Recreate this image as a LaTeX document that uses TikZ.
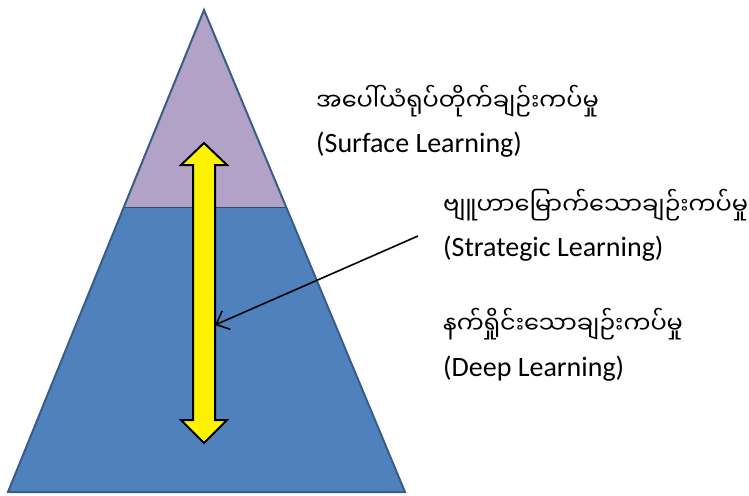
\documentclass[tikz,border=0pt]{standalone}
\usepackage{fontspec}
\setmainfont{Carlito}
\newfontfamily\myanmar[Script=Myanmar]{Noto Sans Myanmar UI}
\usetikzlibrary{arrows.meta,positioning,calc}
\definecolor{surfacefill}{RGB}{178,162,199}
\definecolor{deepfill}{RGB}{79,129,189}
\definecolor{triline}{RGB}{56,93,138}

\begin{document}
\begin{tikzpicture}[x=1pt, y=-1pt,
    tri/.style={draw=triline, line width=2pt, line join=miter},
    divider/.style={draw=triline!80!black, line width=1.2pt},
    updown/.style={draw=black, fill=yellow, line width=2pt, line join=miter},
    lbl/.style={anchor=base west, inner sep=0pt, font=\fontsize{28}{32}\selectfont},
    mmlbl/.style={anchor=base west, inner sep=0pt, font=\myanmar\fontsize{24}{30}\selectfont},
    arrow/.style={-{Straight Barb[length=11pt, width=20pt]}, line width=1.6pt}
]
\useasboundingbox (0,0) rectangle (749,495);

% pyramid
\coordinate (apex) at (204,10);
\coordinate (bl) at (8,492);
\coordinate (br) at (405,492);
\coordinate (ml) at ($(apex)!0.409!(bl)$);
\coordinate (mr) at ($(apex)!0.409!(br)$);

\fill[surfacefill] (apex) -- (mr) -- (ml) -- cycle;
\fill[deepfill] (ml) -- (mr) -- (br) -- (bl) -- cycle;
\draw[divider] (ml) -- (mr);
\draw[tri] (apex) -- (br) -- (bl) -- cycle;

% yellow double arrow
\draw[updown] (204,143) -- (227,165) -- (215,165) -- (215,420) -- (227,420)
  -- (204,443) -- (181,420) -- (193,420) -- (193,165) -- (181,165) -- cycle;

% labels
\node[mmlbl] (surfacemm) at (316,110) {အပေါ်ယံရုပ်တိုက်ချဉ်းကပ်မှု};
\node[lbl] (surfaceen) at (316,152) {(Surface Learning)};
\node[mmlbl] (strategicmm) at (443,214) {ဗျူဟာမြောက်သောချဉ်းကပ်မှု};
\node[lbl] (strategicen) at (443,256) {(Strategic Learning)};
\node[mmlbl] (deepmm) at (443,333) {နက်ရှိုင်းသောချဉ်းကပ်မှု};
\node[lbl] (deepen) at (443,376) {(Deep Learning)};

\coordinate (from) at (418,236);
\coordinate (shaft) at (215,325);
\draw[arrow] (from) -- (shaft);
\end{tikzpicture}
\end{document}
